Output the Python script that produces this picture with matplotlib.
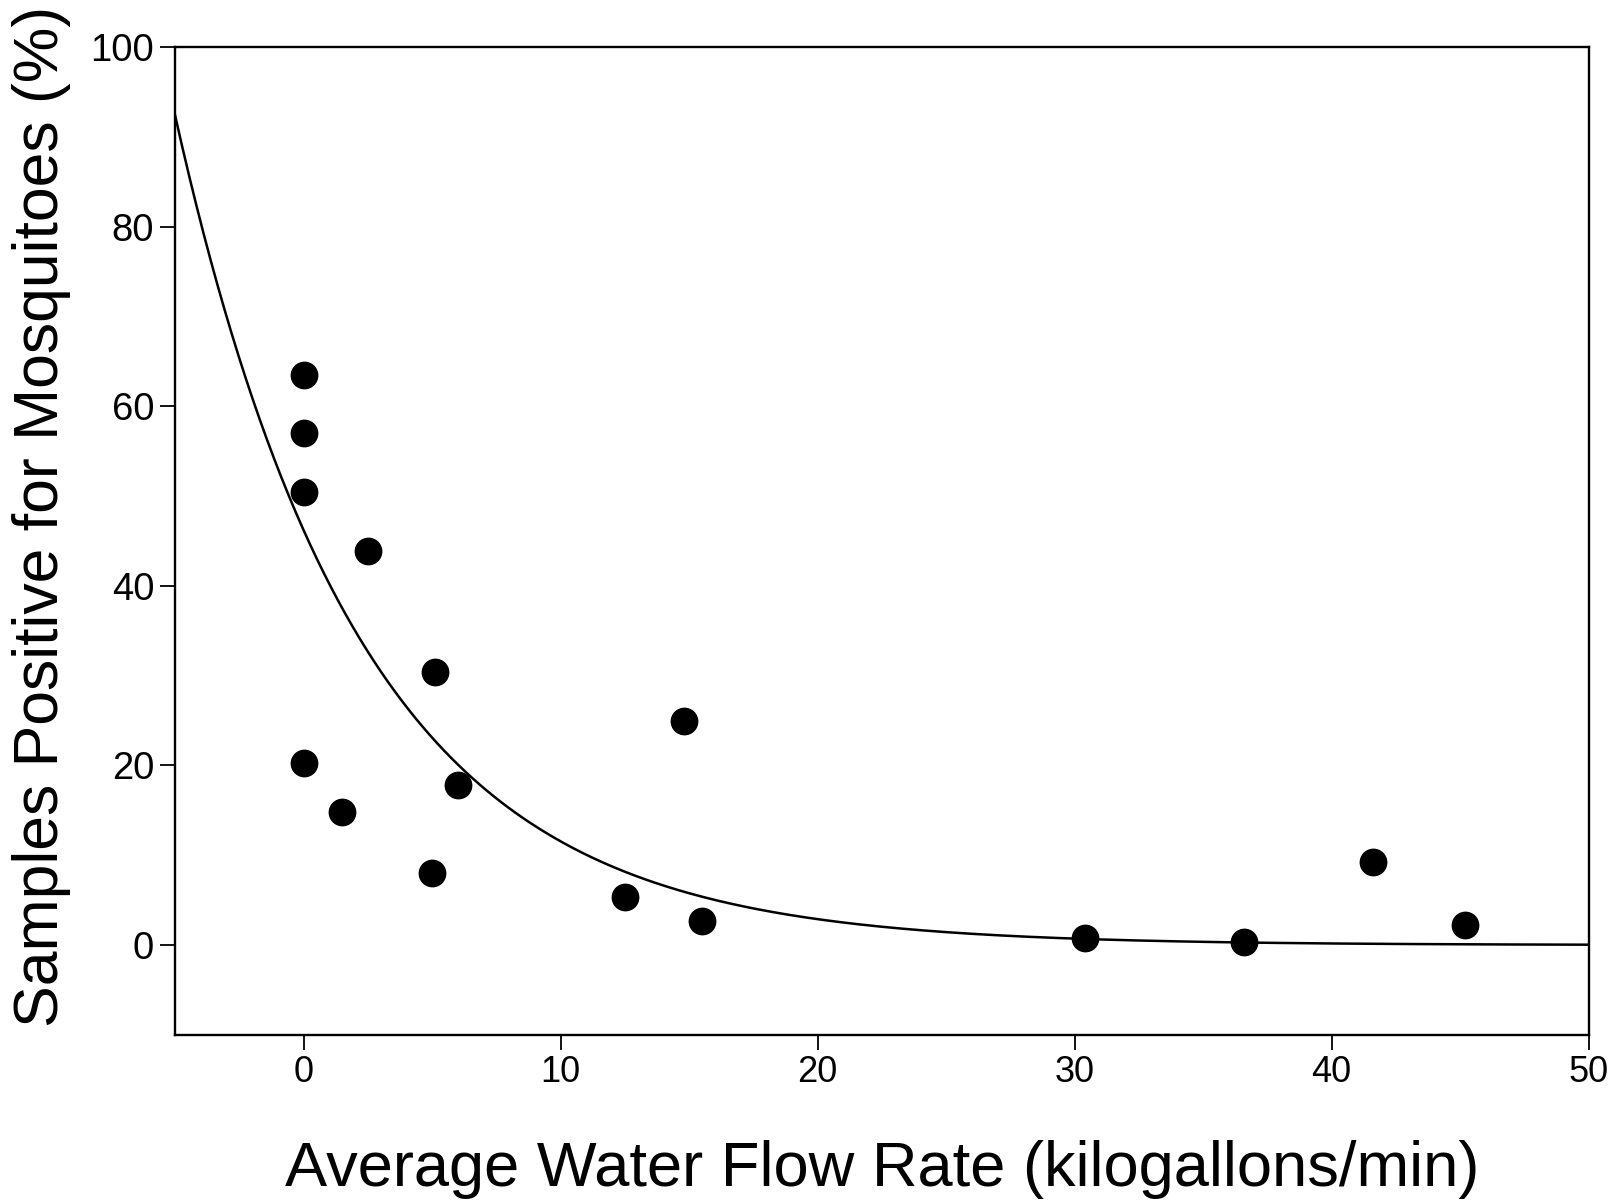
import numpy as np
import matplotlib
matplotlib.use('Agg')
from matplotlib import pyplot as plt

flow = [0, 0, 0, 0, 1.5, 2.5, 5.0, 5.1, 6.0, 12.5, 14.8, 15.5, 30.4, 36.6, 41.6, 45.2]
positive = [63.5, 57.0, 50.4, 20.3, 14.8, 43.9, 8.0, 30.4, 17.8, 5.3, 24.9, 2.7, 0.8, 0.3, 9.3, 2.2]

# Exponential decay fit  y = a * exp(-b * x)
fit_a = 46.2
fit_b = 0.1386

x_ticks = [0, 10, 20, 30, 40, 50]
y_ticks = [0, 20, 40, 60, 80, 100]

plt.rcParams['font.family'] = ['Liberation Sans', 'DejaVu Sans']

fig = plt.figure(figsize=(16.21, 12.02), dpi=100)
ax = fig.add_axes([0.108, 0.139, 0.872, 0.822])

xs = np.linspace(-5, 50, 400)
ax.plot(xs, fit_a * np.exp(-fit_b * xs), color='black', lw=1.8)
ax.plot(flow, positive, 'o', color='black', markersize=19, zorder=3)

ax.set_xlim(-5, 50)
ax.set_ylim(-10, 100)
ax.set_xticks(x_ticks)
ax.set_yticks(y_ticks)

for s in ax.spines.values():
    s.set_linewidth(1.7)
ax.tick_params(direction='out', length=11, width=1.3)
ax.tick_params(axis='x', pad=3.5, labelsize=26)
ax.tick_params(axis='y', pad=4, labelsize=27.5)

ax.set_xlabel('Average Water Flow Rate (kilogallons/min)', fontsize=45.5, labelpad=36)
ax.set_ylabel('Samples Positive for Mosquitoes (%)', fontsize=45)
ax.yaxis.set_label_coords(-0.0735, 0.525)

fig.savefig('out.png', dpi=100)
